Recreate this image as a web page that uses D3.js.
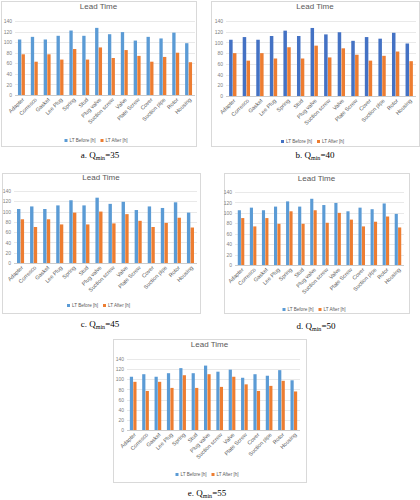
<!DOCTYPE html>
<html><head><meta charset="utf-8">
<script src="https://cdn.jsdelivr.net/npm/d3@7/dist/d3.min.js"></script>
<style>body{margin:0;background:#fff}svg{display:block}</style>
</head><body>
<svg id="c" width="420" height="500"></svg>
<script>
const categories = ["Adapter","Corresco","Gasket","Lee Plug","Spring","Stud","Plug valve","Suction screw","Valve","Plate Screw","Cover","Suction pipe","Rotor","Housing"];
const ltBefore = [105,110,105,112,122,112,127,115,119,103,110,107,118,98];
const ltAfter35 = [77,63,77,67,87,67,90,70,85,74,63,72,80,62];
const ltAfter40 = [80,66,80,70,91,70,94,72,89,77,66,75,83,65];
const ltAfter45 = [85,70,85,75,98,75,100,77,95,82,70,78,88,69];
const ltAfter50 = [90,74,90,79,103,79,105,81,100,87,74,83,93,72];
const ltAfter55 = [95,77,95,83,108,83,110,85,105,90,77,87,97,76];
const yTicks = [0,20,40,60,80,100,120,140];
const seriesNames = ["LT Before [h]","LT After [h]"];
const chartTitle = "Lead Time";
const captions = [["a. ","=35"],["b. ","=40"],["c. ","=45"],["d. ","=50"],["e. ","=55"]];

const svg = d3.select("#c");
const orange = "#ED7D31";

const panels = [
  {box:[1,1,196,146], titleY:9, plot:[15,21,195,95], legY:142, cap:[100,158], after:ltAfter35, blue:"#5B9BD5"},
  {box:[211,1,419,146], titleY:9, plot:[226,21,416,96], legY:143, cap:[315,158], after:ltAfter40, blue:"#4472C4"},
  {box:[2,173,200,313], titleY:180, plot:[14,191,197,263], legY:307, cap:[100,327], after:ltAfter45, blue:"#5B9BD5"},
  {box:[224,173,409,313], titleY:181, plot:[235,192,404,265], legY:311, cap:[316,329], after:ltAfter50, blue:"#5B9BD5"},
  {box:[113,339,306,482], titleY:347, plot:[127,359,300,430], legY:476, cap:[207,496], after:ltAfter55, blue:"#5B9BD5"}
];

panels.forEach((p,i)=>{
  const g = svg.append("g");
  const [bx0,by0,bx1,by1] = p.box;
  g.append("rect").attr("x",bx0+0.5).attr("y",by0+0.5).attr("width",bx1-bx0).attr("height",by1-by0)
    .attr("fill","#fff").attr("stroke","#d9d9d9").attr("stroke-width",1);
  g.append("text").attr("x",(bx0+bx1)/2).attr("y",p.titleY).attr("text-anchor","middle")
    .attr("font-family","Liberation Sans, Arial, sans-serif").attr("font-size",8).attr("fill","#595959").text(chartTitle);
  const [px0,py0,px1,py1] = p.plot;
  const y = d3.scaleLinear().domain([0,140]).range([py1,py0]);
  const x = d3.scaleBand().domain(categories).range([px0,px1]).paddingInner(0.46).paddingOuter(0.23);
  const xs = d3.scaleBand().domain([0,1]).range([0,x.bandwidth()]).paddingInner(0.08);
  g.append("g").selectAll("line").data(yTicks).join("line")
    .attr("x1",px0).attr("x2",px1).attr("y1",d=>Math.round(y(d))+0.5).attr("y2",d=>Math.round(y(d))+0.5)
    .attr("stroke",d=>d===0?"#bfbfbf":"#e3e3e3").attr("stroke-width",0.8);
  const ax = g.append("g").attr("transform",`translate(${px0},0)`)
    .call(d3.axisLeft(y).tickValues(yTicks).tickSize(0).tickPadding(3));
  ax.select(".domain").remove();
  ax.selectAll("text").attr("font-size",5).attr("fill","#7f7f7f").attr("font-family","Liberation Sans, Arial, sans-serif");
  const data = categories.map((c,k)=>({c, v:[ltBefore[k], p.after[k]]}));
  const grp = g.append("g").selectAll("g").data(data).join("g").attr("transform",d=>`translate(${x(d.c)},0)`);
  grp.selectAll("rect").data(d=>d.v.map((v,j)=>({v,j}))).join("rect")
    .attr("x",d=>xs(d.j)).attr("width",xs.bandwidth())
    .attr("y",d=>y(d.v)).attr("height",d=>y(0)-y(d.v))
    .attr("fill",d=>d.j===0?p.blue:orange);
  const xa = g.append("g").attr("transform",`translate(0,${py1})`)
    .call(d3.axisBottom(x).tickSize(0).tickPadding(0));
  xa.select(".domain").remove();
  xa.selectAll("text").attr("font-size",5.5).attr("fill","#595959").attr("font-family","Liberation Sans, Arial, sans-serif")
    .attr("text-anchor","end").attr("dy",0)
    .attr("transform","translate(3,5) rotate(-45)");
  const legW = 68;
  const lx = (bx0+bx1)/2 - legW/2;
  const lg = g.append("g").attr("transform",`translate(${lx},${p.legY})`);
  seriesNames.forEach((s,j)=>{
    const o = j*36;
    lg.append("rect").attr("x",o).attr("y",-3).attr("width",3).attr("height",3).attr("fill",j===0?p.blue:orange);
    lg.append("text").attr("x",o+5).attr("y",0).attr("font-size",4.6).attr("fill","#595959")
      .attr("font-family","Liberation Sans, Arial, sans-serif").text(s);
  });
  const t = svg.append("text").attr("x",p.cap[0]).attr("y",p.cap[1]).attr("text-anchor","middle")
    .attr("font-family","Liberation Serif, Times New Roman, serif").attr("font-size",9).attr("fill","#000");
  t.append("tspan").text(captions[i][0]+"Q");
  t.append("tspan").attr("font-size",6).attr("dy",1.5).text("min");
  t.append("tspan").attr("dy",-1.5).text(captions[i][1]);
});
</script>
</body></html>
